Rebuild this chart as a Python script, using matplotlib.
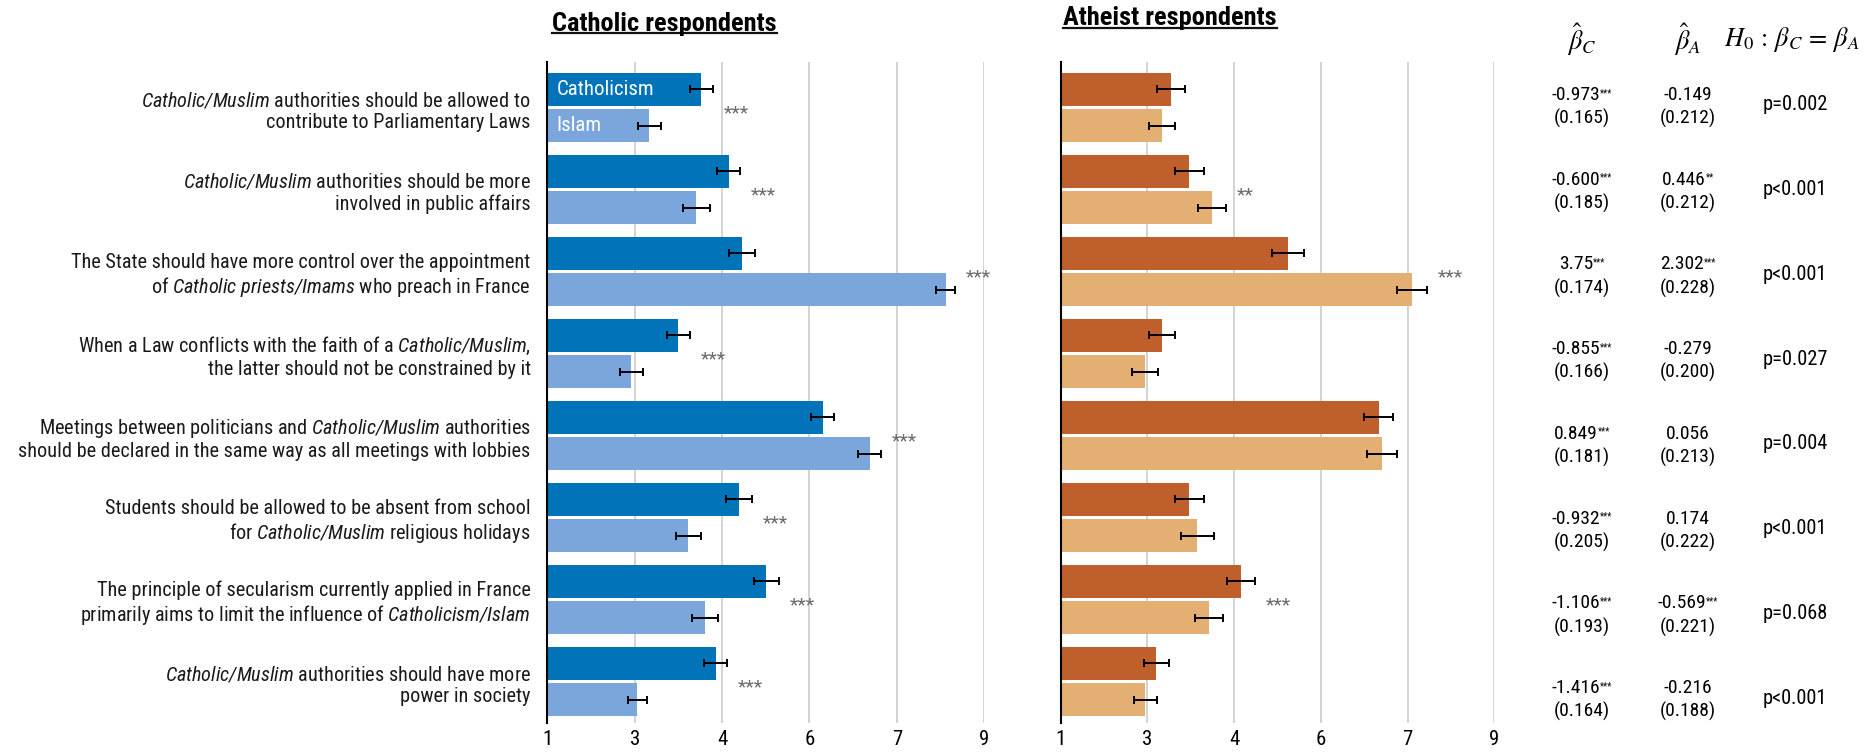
import matplotlib
matplotlib.use('Agg')
import matplotlib.pyplot as plt
from matplotlib import font_manager
from matplotlib.lines import Line2D
import numpy as np

# police : Roboto Condensed si présente, sinon Roboto
names = {f.name for f in font_manager.fontManager.ttflist}
FONT = 'Roboto Condensed' if 'Roboto Condensed' in names else 'Roboto'
plt.rcParams['font.family'] = FONT
# partie en italique des libellés : mathtext avec la même police, tout en italique
plt.rcParams['mathtext.fontset'] = 'custom'
plt.rcParams['mathtext.rm'] = FONT + ':italic'
plt.rcParams['mathtext.it'] = FONT + ':italic'

# ---- données ----
statements = [
    r"$Catholic/Muslim$ authorities should be allowed to" + "\ncontribute to Parliamentary Laws",
    r"$Catholic/Muslim$ authorities should be more" + "\ninvolved in public affairs",
    "The State should have more control over the appointment\n" + r"of $Catholic\ priests/Imams$ who preach in France",
    r"When a Law conflicts with the faith of a $Catholic/Muslim$," + "\nthe latter should not be constrained by it",
    r"Meetings between politicians and $Catholic/Muslim$ authorities" + "\nshould be declared in the same way as all meetings with lobbies",
    "Students should be allowed to be absent from school\n" + r"for $Catholic/Muslim$ religious holidays",
    "The principle of secularism currently applied in France\n" + r"primarily aims to limit the influence of $Catholicism/Islam$",
    r"$Catholic/Muslim$ authorities should have more" + "\npower in society",
]

cath_catholicism = [3.82, 4.32, 4.57, 3.40, 6.04, 4.51, 5.01, 4.08]
cath_islam = [2.87, 3.73, 8.29, 2.54, 6.90, 3.58, 3.88, 2.65]
cath_err_catholicism = [0.21, 0.21, 0.24, 0.21, 0.21, 0.24, 0.23, 0.21]
cath_err_islam = [0.21, 0.24, 0.18, 0.21, 0.21, 0.23, 0.24, 0.18]
cath_stars = ['***', '***', '***', '***', '***', '***', '***', '***']

ath_catholicism = [3.04, 3.37, 5.19, 2.87, 6.87, 3.37, 4.33, 2.76]
ath_islam = [2.87, 3.79, 7.48, 2.56, 6.93, 3.52, 3.74, 2.56]
ath_err_catholicism = [0.26, 0.27, 0.30, 0.24, 0.27, 0.27, 0.26, 0.23]
ath_err_islam = [0.24, 0.26, 0.27, 0.24, 0.27, 0.30, 0.26, 0.21]
ath_stars = ['', '**', '***', '', '', '', '***', '']

beta_c = ['-0.973', '-0.600', '3.75', '-0.855', '0.849', '-0.932', '-1.106', '-1.416']
beta_c_stars = ['***', '***', '***', '***', '***', '***', '***', '***']
se_c = ['(0.165)', '(0.185)', '(0.174)', '(0.166)', '(0.181)', '(0.205)', '(0.193)', '(0.164)']
beta_a = ['-0.149', '0.446', '2.302', '-0.279', '0.056', '0.174', '-0.569', '-0.216']
beta_a_stars = ['', '**', '***', '', '', '', '***', '']
se_a = ['(0.212)', '(0.212)', '(0.228)', '(0.200)', '(0.213)', '(0.222)', '(0.221)', '(0.188)']
p_test = ['p=0.002', 'p<0.001', 'p<0.001', 'p=0.027', 'p=0.004', 'p<0.001', 'p=0.068', 'p<0.001']

# ---- figure ----
W, H = 1865, 756
fig = plt.figure(figsize=(W / 100, H / 100), dpi=100)
fx = lambda px: px / W
fy = lambda py: 1 - py / H

y = np.arange(len(statements))
off, bh = 0.22, 0.40
ticks = np.linspace(1, 9, 6)


def panel(left, right, v_c, v_i, e_c, e_i, stars, col_c, col_i):
    ax = fig.add_axes([fx(left), 33 / H, fx(right - left), 661 / H])
    ax.barh(y - off, np.array(v_c) - 1, left=1, height=bh, color=col_c, zorder=2)
    ax.barh(y + off, np.array(v_i) - 1, left=1, height=bh, color=col_i, zorder=2)
    kw = dict(fmt='none', ecolor='black', elinewidth=1.4, capsize=3, capthick=1.4, zorder=3)
    ax.errorbar(v_c, y - off, xerr=e_c, **kw)
    ax.errorbar(v_i, y + off, xerr=e_i, **kw)
    for k, s in enumerate(stars):
        if s:
            xs = max(v_c[k] + e_c[k], v_i[k] + e_i[k]) + 0.2
            ax.text(xs, y[k] + 0.07, s, fontsize=14, color='#6b6b6b', va='center', ha='left')
    ax.set_xlim(1, 9)
    ax.set_ylim(7.506, -0.555)
    ax.set_xticks(ticks)
    ax.set_xticklabels([f'{t:.0f}' for t in ticks])
    ax.xaxis.grid(True, color='#c8c8c8', linewidth=1.1)
    ax.set_axisbelow(True)
    for sp in ['top', 'right', 'bottom']:
        ax.spines[sp].set_visible(False)
    ax.spines['left'].set_linewidth(1.5)
    ax.tick_params(axis='x', length=0, pad=5, labelsize=15)
    ax.tick_params(axis='y', length=0)
    return ax


ax1 = panel(547.3, 984.3, cath_catholicism, cath_islam, cath_err_catholicism, cath_err_islam,
            cath_stars, '#0073b9', '#7ba6db')
ax2 = panel(1060.7, 1494.3, ath_catholicism, ath_islam, ath_err_catholicism, ath_err_islam,
            ath_stars, '#bf5f2b', '#e4af72')

ax1.set_yticks(y)
ax1.set_yticklabels(statements, fontsize=14.55, linespacing=1.18, color='#1a1a1a')
ax1.tick_params(axis='y', pad=12)
ax2.set_yticks([])

# légende dans les barres
ax1.text(1.17, y[0] - off, 'Catholicism', color='white', fontsize=15, va='center', ha='left', zorder=4)
ax1.text(1.17, y[0] + off, 'Islam', color='white', fontsize=15, va='center', ha='left', zorder=4)

r = fig.canvas.get_renderer()

# titres soulignés
for x0, yb, title in [(552, 30.7, 'Catholic respondents'), (1063, 25.5, 'Atheist respondents')]:
    t = fig.text(fx(x0), fy(yb), title, fontsize=19, fontweight='bold', va='baseline', ha='left')
    bb = t.get_window_extent(r)
    fig.add_artist(Line2D([bb.x0 / W, bb.x1 / W], [fy(yb + 2.5)] * 2, color='#111111', linewidth=1.6))

# tableau des coefficients
col_bc, col_ba, col_p = 1582, 1688, 1795
headers = [(col_bc, r'$\hat{\beta}_C$'), (col_ba, r'$\hat{\beta}_A$'),
           (col_p - 3, r'$H_0\,:\,\beta_C\,=\,\beta_A$')]
for xc, lab in headers:
    fig.text(fx(xc), fy(40), lab, math_fontfamily='stix', fontsize=19, ha='center', va='center')


def num_stars(xc, yb, num, stars):
    t = fig.text(0, fy(yb), num, fontsize=14, va='baseline', ha='left')
    w = t.get_window_extent(r).width
    ws = 0
    if stars:
        s = fig.text(0, fy(yb - 4), stars, fontsize=7, va='baseline', ha='left')
        ws = s.get_window_extent(r).width
    x0 = xc - (w + ws) / 2
    t.set_x(fx(x0))
    if stars:
        s.set_x(fx(x0 + w))


rows_px = np.linspace(105, 698, len(statements))
for k, yc in enumerate(rows_px):
    num_stars(col_bc, yc - 5, beta_c[k], beta_c_stars[k])
    num_stars(col_ba, yc - 5, beta_a[k], beta_a_stars[k])
    fig.text(fx(col_bc), fy(yc + 19), se_c[k], fontsize=14, ha='center', va='baseline')
    fig.text(fx(col_ba), fy(yc + 19), se_a[k], fontsize=14, ha='center', va='baseline')
    fig.text(fx(col_p), fy(yc), p_test[k], fontsize=14.7, ha='center', va='center')

fig.savefig('out.png', dpi=100)
